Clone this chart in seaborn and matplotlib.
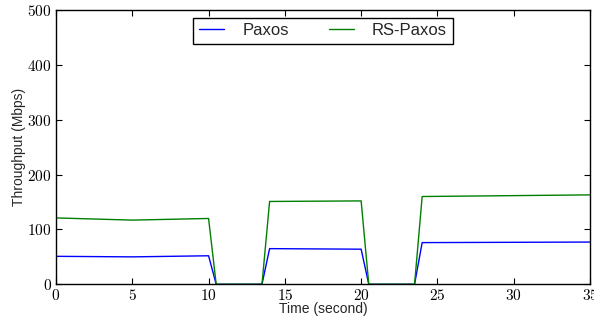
import matplotlib
matplotlib.use("Agg")
import matplotlib.pyplot as plt
from matplotlib.ticker import FuncFormatter, MultipleLocator
import seaborn as sns
import pandas as pd

time_s = [0, 5, 10, 10.5, 13.5, 14, 20, 20.5, 23.5, 24, 35]
paxos = [51, 50, 52, 0, 0, 65, 64, 0, 0, 76, 77]
rs_paxos = [121, 117, 120, 0, 0, 151, 152, 0, 0, 160, 163]
series_names = ["Paxos", "RS-Paxos"]
series_colors = ["#0000ff", "#008000"]

df = pd.concat([
    pd.DataFrame({"time": time_s, "thr": paxos, "series": series_names[0]}),
    pd.DataFrame({"time": time_s, "thr": rs_paxos, "series": series_names[1]}),
])

sns.set_style("ticks")
plt.rcParams["font.family"] = ["Liberation Sans", "DejaVu Sans"]
plt.rcParams["mathtext.fontset"] = "cm"

fig = plt.figure(figsize=(5.94, 3.2), dpi=100)
ax = fig.add_axes([56 / 594, 35.7 / 320, 534 / 594, 274.3 / 320])
sns.lineplot(data=df, x="time", y="thr", hue="series", palette=series_colors,
             hue_order=series_names, linewidth=1.0, ax=ax, legend=True)

ax.set_xlim(0, 35)
ax.set_ylim(0, 500)
ax.xaxis.set_major_locator(MultipleLocator(5))
ax.yaxis.set_major_locator(MultipleLocator(100))
fmt = FuncFormatter(lambda v, p: r"$%d$" % int(round(v)))
ax.xaxis.set_major_formatter(fmt)
ax.yaxis.set_major_formatter(fmt)
ax.tick_params(direction="in", length=4, width=0.8, labelsize=11, top=True, right=True,
               colors="black", pad=3)
for s in ax.spines.values():
    s.set_visible(True)
    s.set_color("black")
    s.set_linewidth(1.0)
ax.set_xlabel("Time (second)", fontsize=10, labelpad=-1)
ax.set_ylabel("Throughput (Mbps)", fontsize=10, labelpad=1)
ax.grid(False)

leg = ax.legend(loc="upper center", ncol=2, fontsize=12, fancybox=False, frameon=True,
                edgecolor="black", framealpha=1, handlelength=1.5, handletextpad=1.1,
                columnspacing=2.4, borderpad=0.35, borderaxespad=0.45)
leg.get_frame().set_linewidth(1.0)

fig.savefig("out.png", dpi=100)
